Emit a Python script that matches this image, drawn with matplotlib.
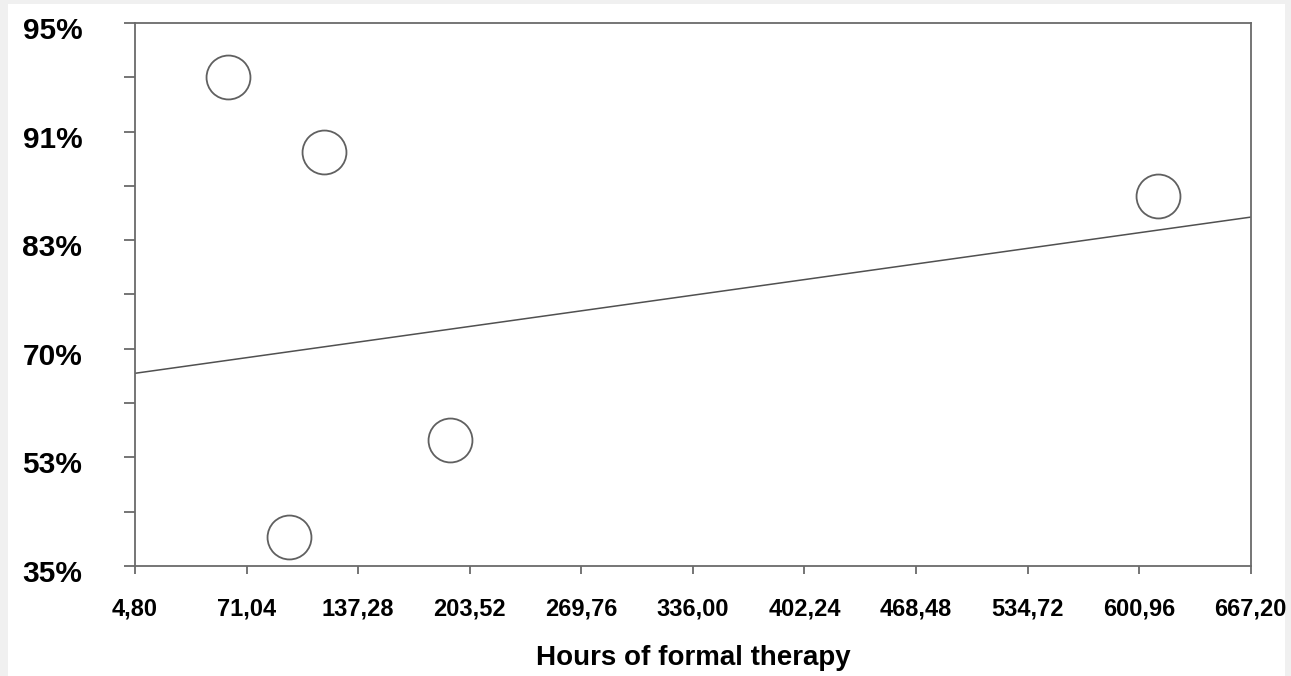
import numpy as np
import matplotlib.pyplot as plt
from matplotlib.patches import Rectangle
from matplotlib.transforms import ScaledTranslation

# hours of formal therapy vs. success rate
hours = [59.8, 117.0, 612.0, 191.8, 96.1]
success = [0.935, 0.897, 0.866, 0.556, 0.396]

# fitted trend line, end points at the axis limits
trend_hours = [4.80, 667.20]
trend_success = [0.663, 0.849]

x_ticks = [4.80, 71.04, 137.28, 203.52, 269.76, 336.00, 402.24, 468.48, 534.72, 600.96, 667.20]
y_low, y_high = 0.35, 0.954


def logit(p):
    return np.log(p / (1 - p))


def expit(v):
    return 1 / (1 + np.exp(-v))


plt.rcParams['font.family'] = ['Liberation Sans', 'DejaVu Sans']
plt.rcParams['font.weight'] = 'bold'

fig = plt.figure(figsize=(12.91, 6.76), dpi=100)
fig.patch.set_facecolor('#f0f0f0')
fig.add_artist(Rectangle((8 / 1291, 0), 1277 / 1291, 672 / 676,
                         transform=fig.transFigure, facecolor='white',
                         edgecolor='none', zorder=-5))

ax = fig.add_axes([135 / 1291, 110 / 676, 1115.7 / 1291, 543 / 676])
ax.set_zorder(1)
ax.set_yscale('logit')

edge = '#6a6a6a'
ax.plot(trend_hours, trend_success, color='#505050', lw=1.1, zorder=2)
ax.scatter(hours, success, s=1000, facecolor='white', edgecolor='#606060',
           linewidth=1.3, zorder=3)

# equally spaced ticks on the logit axis, labelled as rounded percentages
major = expit(np.linspace(logit(y_low), logit(y_high), 6))
minor = expit((logit(major[:-1]) + logit(major[1:])) / 2)
ax.set_ylim(y_low, y_high)
ax.set_yticks(major, [f"{round(v * 100):d}%" for v in major])
ax.set_yticks(minor, minor=True)
ax.yaxis.set_minor_formatter(plt.NullFormatter())

ax.set_xlim(x_ticks[0], x_ticks[-1])
ax.set_xticks(x_ticks, [f"{v:.2f}".replace('.', ',') for v in x_ticks])

for s in ax.spines.values():
    s.set_color(edge)
    s.set_linewidth(1.3)

ax.tick_params(axis='y', which='both', length=8, width=1.3, color=edge,
               labelsize=21.5, pad=30)
ax.tick_params(axis='x', length=6, width=1.3, color=edge, labelsize=17, pad=17)

shift = ScaledTranslation(0, -5 / 100, fig.dpi_scale_trans)
for lab in ax.get_yticklabels():
    lab.set_transform(lab.get_transform() + shift)

ax.set_xlabel('Hours of formal therapy', fontsize=20, fontweight='bold', labelpad=17)

fig.savefig('out.png', dpi=100)
